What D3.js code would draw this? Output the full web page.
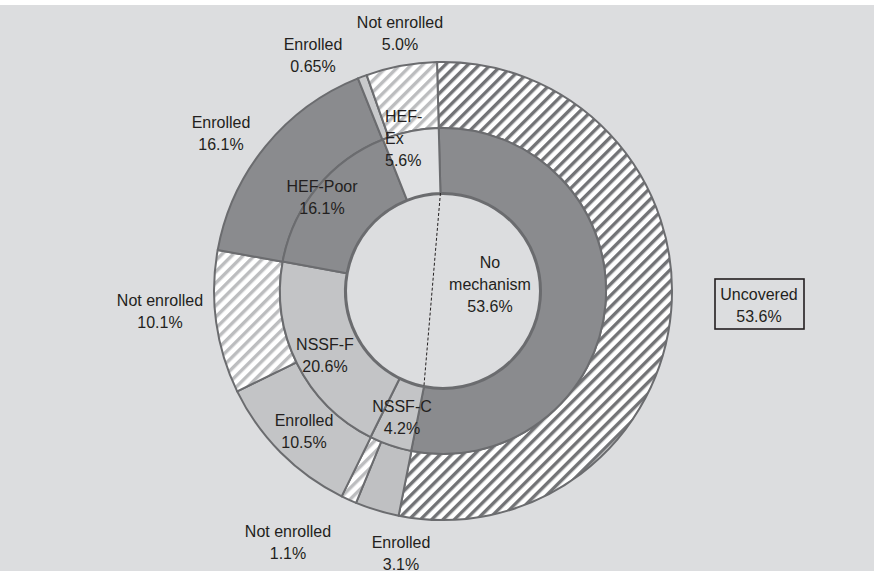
<!DOCTYPE html>
<html>
<head>
<meta charset="utf-8">
<script src="https://cdn.jsdelivr.net/npm/d3@7"></script>
<style>
  body { margin: 0; background: #ffffff; }
  text { font-family: "Liberation Sans", Arial, sans-serif; font-size: 16px; fill: #231f20; }
</style>
</head>
<body>
<div id="chart"></div>
<script>
// inner ring: coverage mechanism
const innerNames = ["No mechanism", "NSSF-C", "NSSF-F", "HEF-Poor", "HEF-Ex"];
const innerValues = [53.6, 4.2, 20.6, 16.1, 5.6];

// outer ring: enrolment status within each mechanism
const outerNames = ["Uncovered", "Enrolled", "Not enrolled", "Enrolled", "Not enrolled", "Enrolled", "Enrolled", "Not enrolled"];
const outerValues = [53.6, 3.1, 1.1, 10.5, 10.1, 16.1, 0.65, 5.0];
const outerValueText = ["53.6%", "3.1%", "1.1%", "10.5%", "10.1%", "16.1%", "0.65%", "5.0%"];

const width = 874, height = 576;
const cx = 443, cy = 291;
const rHole = 98, rMid = 163, rOuter = 229;
const start = -1.5 * Math.PI / 180;

const innerFill = ["#8a8b8e", "#c3c4c6", "#c3c4c6", "#8a8b8e", "#e0e1e3"];
const outerFill = ["url(#hatchDark)", "#bfc0c2", "url(#hatchLight)", "#c3c4c6", "url(#hatchLight)", "#8a8b8e", "#c8c9cb", "url(#hatchLight)"];

const svg = d3.select("#chart").append("svg")
    .attr("width", width)
    .attr("height", height);

svg.append("rect")
    .attr("x", 0).attr("y", 5)
    .attr("width", width).attr("height", height - 10)
    .attr("fill", "#dcdddf");

// hatch patterns
const defs = svg.append("defs");
function hatch(id, color) {
    const p = defs.append("pattern")
        .attr("id", id)
        .attr("patternUnits", "userSpaceOnUse")
        .attr("width", 8).attr("height", 8)
        .attr("patternTransform", "rotate(45)");
    p.append("rect").attr("width", 8).attr("height", 8).attr("fill", "#ffffff");
    p.append("rect").attr("width", 3.4).attr("height", 8).attr("fill", color);
}
hatch("hatchDark", "#727376");
hatch("hatchLight", "#bcbdbf");

const pie = d3.pie().sort(null).startAngle(start).endAngle(start + 2 * Math.PI);

const g = svg.append("g").attr("transform", `translate(${cx},${cy})`);

const innerArc = d3.arc().innerRadius(rHole).outerRadius(rMid);
const outerArc = d3.arc().innerRadius(rMid).outerRadius(rOuter);

const innerData = pie(innerValues);
const outerData = pie(outerValues);

g.selectAll(".outer")
    .data(outerData)
    .enter().append("path")
    .attr("class", "outer")
    .attr("d", outerArc)
    .attr("fill", (d, i) => outerFill[i])
    .attr("stroke", "#6b6c6f")
    .attr("stroke-width", 2)
    .attr("stroke-linejoin", "round");

g.selectAll(".inner")
    .data(innerData)
    .enter().append("path")
    .attr("class", "inner")
    .attr("d", innerArc)
    .attr("fill", (d, i) => innerFill[i])
    .attr("stroke", "#6b6c6f")
    .attr("stroke-width", 2)
    .attr("stroke-linejoin", "round");

// hole
g.append("circle")
    .attr("r", rHole - 1)
    .attr("fill", "#dcdddf")
    .attr("stroke", "#6b6c6f")
    .attr("stroke-width", 2);

// dashed chord joining the ends of "No mechanism"
const nm = innerData[0];
const pt = a => [rHole * Math.sin(a), -rHole * Math.cos(a)];
g.append("line")
    .attr("x1", pt(nm.startAngle)[0]).attr("y1", pt(nm.startAngle)[1])
    .attr("x2", pt(nm.endAngle)[0]).attr("y2", pt(nm.endAngle)[1])
    .attr("stroke", "#231f20")
    .attr("stroke-width", 1)
    .attr("stroke-dasharray", "3,2");

// label layout (x, first baseline, anchor, line gap)
const innerLabelPos = [
    { x: 490, y: 268, lines: ["No", "mechanism", innerValues[0] + "%"] },
    { x: 402, y: 412, lines: ["NSSF-C", innerValues[1] + "%"] },
    { x: 325, y: 350, lines: ["NSSF-F", innerValues[2] + "%"] },
    { x: 322, y: 192, lines: ["HEF-Poor", innerValues[3] + "%"] },
    { x: 385, y: 122, lines: ["HEF-", "Ex", innerValues[4] + "%"], anchor: "start" }
];
const outerLabelPos = [
    null,
    { x: 401, y: 548 },
    { x: 288, y: 537 },
    { x: 304, y: 426 },
    { x: 160, y: 306 },
    { x: 221, y: 128 },
    { x: 313, y: 50 },
    { x: 400, y: 28 }
];

function drawLabel(p, lines) {
    const t = svg.append("text")
        .attr("text-anchor", p.anchor || "middle");
    lines.forEach((s, i) => {
        t.append("tspan")
            .attr("x", p.x)
            .attr("y", p.y + i * 22)
            .text(s);
    });
}

innerLabelPos.forEach(p => drawLabel(p, p.lines));
outerLabelPos.forEach((p, i) => {
    if (p) drawLabel(p, [outerNames[i], outerValueText[i]]);
});

// boxed label for the uncovered share
svg.append("rect")
    .attr("x", 715).attr("y", 279)
    .attr("width", 89).attr("height", 50)
    .attr("fill", "none")
    .attr("stroke", "#231f20")
    .attr("stroke-width", 1.6);
drawLabel({ x: 759, y: 300 }, [outerNames[0], outerValueText[0]]);
</script>
</body>
</html>
